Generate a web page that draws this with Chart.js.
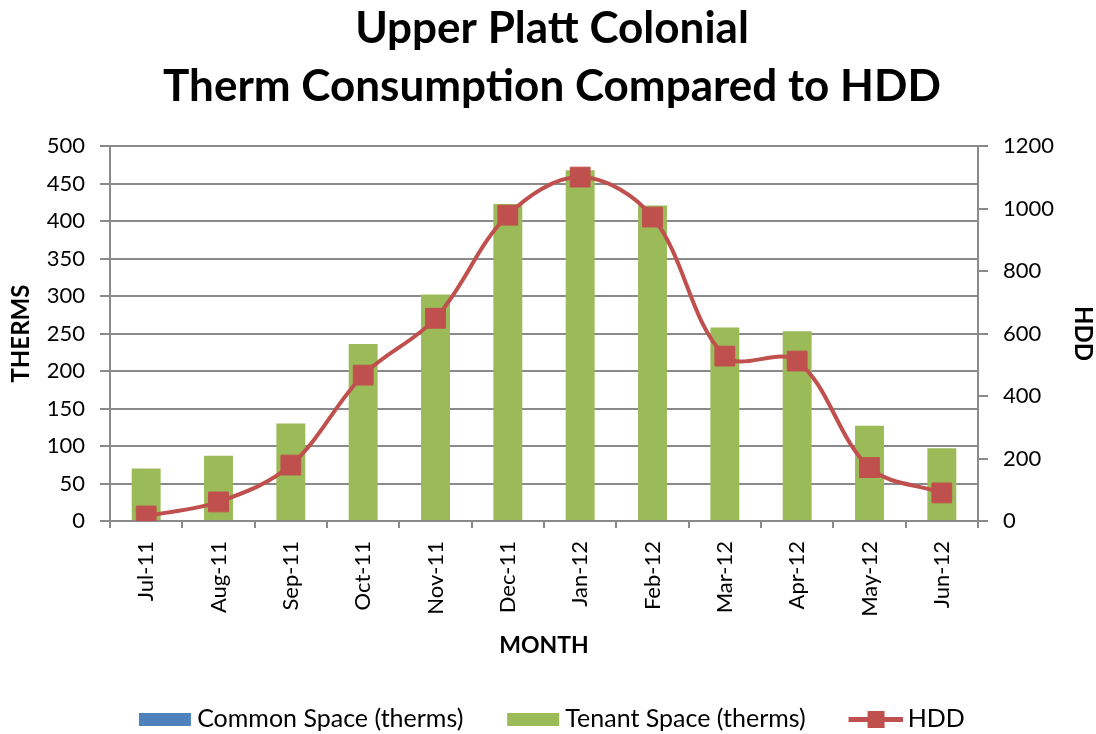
<!DOCTYPE html>
<html><head><meta charset="utf-8">
<script src="https://cdn.jsdelivr.net/npm/chart.js@4/dist/chart.umd.min.js"></script>
<style>html,body{margin:0;padding:0;background:#fff}#wrap{width:1096px;height:734px;position:relative}</style>
</head><body><div id="wrap"><canvas id="c" width="1096" height="734"></canvas></div>
<script>
const months = ['Jul-11','Aug-11','Sep-11','Oct-11','Nov-11','Dec-11','Jan-12','Feb-12','Mar-12','Apr-12','May-12','Jun-12'];
const commonSpace = [0,0,0,0,0,0,0,0,0,0,0,0];
const tenantSpace = [70,87,130,236,302,423,468,421,258,253,127,97];
const hdd = [16,61,179,467,649,979,1101,973,528,512,171,90];
const titleLines = ['Upper Platt Colonial','Therm Consumption Compared to HDD'];
const seriesNames = ['Common Space (therms)','Tenant Space (therms)','HDD'];
const axisTitles = {x:'MONTH', y:'THERMS', y1:'HDD'};

const BLUE='#4F81BD', GREEN='#9BBB59', RED='#C0504D', GRID='#8a8a8a';
const FONT='Lato';

const ICON_W=60, ICON_H=24;
function swatch(color){const c=document.createElement('canvas');c.width=ICON_W;c.height=ICON_H;const x=c.getContext('2d');x.fillStyle=color;x.fillRect(7,6,52,13);return c;}
function lineSwatch(){const c=document.createElement('canvas');c.width=ICON_W;c.height=ICON_H;const x=c.getContext('2d');x.fillStyle=RED;x.fillRect(6,10,54,5);x.fillRect(25,4,17,17);return c;}
const legendIcons=[swatch(BLUE),swatch(GREEN),lineSwatch()];

Chart.defaults.font.family=FONT;
Chart.defaults.color='#000';

new Chart(document.getElementById('c'),{
  data:{labels:months,datasets:[
    {type:'bar',label:seriesNames[0],data:commonSpace,backgroundColor:BLUE,stack:'s',order:1,barPercentage:0.4,categoryPercentage:1},
    {type:'bar',label:seriesNames[1],data:tenantSpace,backgroundColor:GREEN,stack:'s',order:1,barPercentage:0.4,categoryPercentage:1},
    {type:'line',label:seriesNames[2],data:hdd,yAxisID:'y1',borderColor:RED,borderWidth:4,tension:0.35,pointStyle:'rect',pointRadius:14,pointHoverRadius:14,pointBackgroundColor:RED,pointBorderColor:RED,pointBorderWidth:1,order:0}
  ]},
  options:{
    responsive:false,animation:false,
    layout:{padding:{left:0,right:-8,top:0,bottom:-7.5}},
    plugins:{
      tooltip:{enabled:false},
      title:{display:true,text:titleLines,font:{size:44,weight:'bold',lineHeight:1.32},padding:{top:0,bottom:30},color:'#000'},
      legend:{position:'bottom',labels:{usePointStyle:true,pointStyleWidth:45.5,boxHeight:24,padding:44,font:{size:25},color:'#000',
        generateLabels:()=>seriesNames.map((n,i)=>({text:n,pointStyle:legendIcons[i],fillStyle:'#fff',strokeStyle:'#fff',lineWidth:0,hidden:false,datasetIndex:i}))}}
    },
    scales:{
      x:{stacked:true,offset:true,
        grid:{offset:true,drawOnChartArea:false,drawTicks:true,tickLength:7,color:GRID,lineWidth:2},
        border:{display:true,color:GRID,width:2},
        ticks:{minRotation:90,maxRotation:90,autoSkip:false,font:{size:22},padding:13,color:'#000'},
        title:{display:true,text:axisTitles.x,font:{size:23,weight:'bold'},padding:{top:0,bottom:2.7},color:'#000'},
        afterFit:s=>{s.height=141.5;}
      },
      y:{position:'left',stacked:true,min:0,max:500,
        ticks:{stepSize:50,font:{size:22},padding:15,color:'#000'},
        grid:{color:GRID,lineWidth:2,tickLength:10},
        border:{display:true,color:GRID,width:2},
        title:{display:true,text:axisTitles.y,font:{size:24,weight:'bold'},padding:{top:7,bottom:0},color:'#000'},
        afterFit:s=>{s.width=110;}
      },
      y1:{position:'right',min:0,max:1200,
        ticks:{stepSize:200,font:{size:22},padding:15,color:'#000',callback:v=>String(v)},
        grid:{drawOnChartArea:false,color:GRID,lineWidth:2,tickLength:10},
        border:{display:true,color:GRID,width:2},
        title:{display:true,text:axisTitles.y1,font:{size:24,weight:'bold'},padding:{top:6.6,bottom:0},color:'#000'},
        afterFit:s=>{s.width=126;}
      }
    }
  }
});
</script></body></html>
